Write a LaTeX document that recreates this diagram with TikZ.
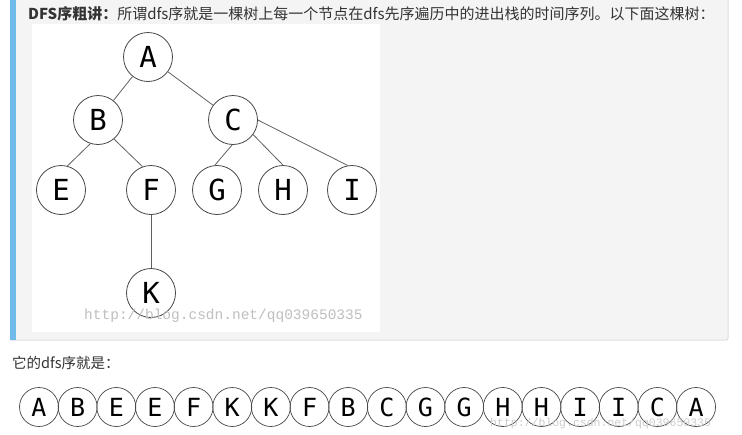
\documentclass[tikz,border=0pt]{standalone}
\usepackage{fontspec}
\setmainfont{Noto Sans CJK SC}
\newfontfamily\monof{DejaVu Sans Mono}
\newfontfamily\wmf{Liberation Mono}
\definecolor{boxbg}{RGB}{244,244,244}
\definecolor{bluebar}{RGB}{112,186,234}
\definecolor{boxline}{RGB}{222,222,222}
\definecolor{txt}{RGB}{51,51,51}
\begin{document}
\begin{tikzpicture}[x=1pt,y=-1pt,
  tnode/.style={circle,draw=black!72,line width=0.8pt,minimum size=49pt,inner sep=0pt,
    font=\monof\fontsize{29}{29}\selectfont},
  snode/.style={circle,draw=black!72,line width=0.7pt,minimum size=39pt,inner sep=0pt,
    font=\monof\fontsize{25}{25}\selectfont},
  tedge/.style={draw=black!62,line width=0.8pt},
  wm/.style={text=black!25,font=\wmf\fontsize{14.5}{14.5}\selectfont,inner sep=0pt}]
\useasboundingbox (0,0) rectangle (742,434);
\fill[white] (0,0) rectangle (742,434);
% grey quote box
\fill[boxbg] (10,0) rectangle (728,340);
\draw[boxline,line width=1pt,rounded corners=2pt] (728,0) -- (728,340) -- (10,340);
\fill[bluebar] (10,0) rectangle (16,340);
% header text
\node[anchor=base west,inner sep=0pt,text=txt,font=\fontsize{15}{15}\selectfont] (head) at (28,19.5)
  {\textbf{DFS序粗讲：}所谓dfs序就是一棵树上每一个节点在dfs先序遍历中的进出栈的时间序列。以下面这棵树：};
% white image
\fill[white] (32,24) rectangle (380,332);
% tree
\node[tnode] (A) at (148,57) {A};
\node[tnode] (B) at (98,120) {B};
\node[tnode] (C) at (233,120) {C};
\node[tnode] (E) at (61,190) {E};
\node[tnode] (F) at (151,190) {F};
\node[tnode] (G) at (217,190) {G};
\node[tnode] (H) at (283,190) {H};
\node[tnode] (I) at (352,190) {I};
\node[tnode] (K) at (151,293) {K};
\draw[tedge] (A) -- (B);
\draw[tedge] (A) -- (C);
\draw[tedge] (B.252) -- (E.75);
\draw[tedge] (B.310) -- (F.110);
\draw[tedge] (F.south) -- (K.north);
\draw[tedge] (C.268) -- (G.95);
\draw[tedge] (C.-36) -- (H.north);
\draw[tedge] (C.east) -- (I.100);
% watermark in image
\node[wm,anchor=base west] (wm1) at (84,319) {http://blog.csdn.net/qq039650335};
% second line of text
\node[anchor=base west,inner sep=0pt,text=txt,font=\fontsize{14.5}{14.5}\selectfont] (sub) at (12,368) {它的dfs序就是：};
% dfs sequence
\foreach \l [count=\i] in {A,B,E,E,F,K,K,F,B,C,G,G,H,H,I,I,C,A}{
  \node[snode] (s\i) at ({39+(\i-1)*38.65},407) {\l};
}
\node[wm,anchor=base west,font=\wmf\fontsize{11.5}{11.5}\selectfont,text=black!20] (wm3) at (490,426) {http://blog.csdn.net/qq039650335};
\end{tikzpicture}
\end{document}
